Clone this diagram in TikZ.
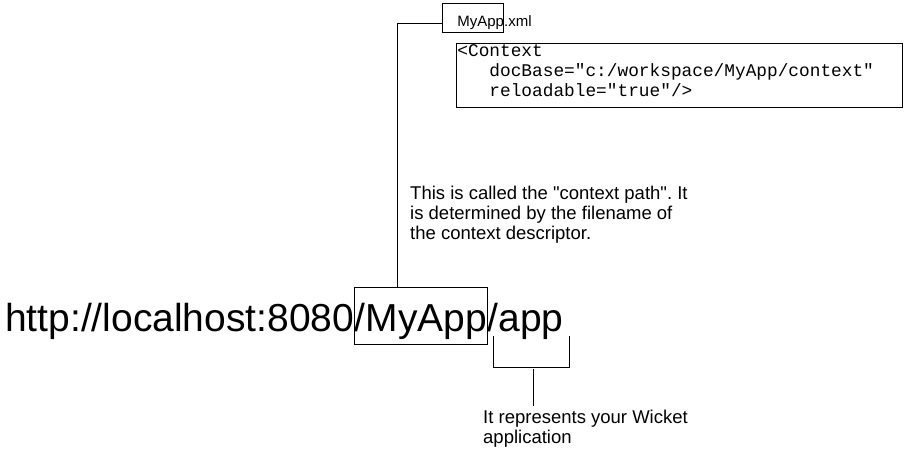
\documentclass[tikz,border=0pt]{standalone}
\usepackage{fontspec}
\newfontfamily\arialfont{Liberation Sans}
\newfontfamily\codefont{Liberation Mono}
\usetikzlibrary{positioning}
\frenchspacing
\tikzstyle{urltext} = [inner sep=0pt, anchor=base west, font=\arialfont\fontsize{39}{47}\selectfont]
\tikzstyle{filebox} = [rectangle, draw, line width=0.8pt, anchor=north west, inner xsep=0pt, inner ysep=0pt, text height=23pt, text depth=6pt, font=\arialfont\fontsize{15}{18}\selectfont]
\tikzstyle{codebox} = [rectangle, draw, line width=0.8pt, inner xsep=1pt, inner ysep=0pt, font=\codefont\fontsize{17.8}{20}\selectfont]
\tikzstyle{note} = [align=left, anchor=north west, inner xsep=0pt, inner ysep=4pt, font=\arialfont\fontsize{18.5}{20}\selectfont]
\tikzstyle{line} = [line width=0.8pt]

\begin{document}
\begin{tikzpicture}[x=1pt, y=-1pt, node distance=0pt]
\useasboundingbox (0,0) rectangle (904,449);

% Nodes for the URL
\node (host) [urltext] at (5,331) {http://localhost:8080};
\node (ctx) [urltext, draw, line width=0.8pt, text height=44pt, text depth=13pt] at (host.base east) {/MyApp};
\node (app) [urltext] at (ctx.base east) {/app};

% Context descriptor
\node (xml) [filebox] at (442,3) {\hspace*{15pt}\makebox[46pt][l]{MyApp.xml}};
\node (code) [codebox, below right=10pt and 14pt of xml.south west] {\parbox[t][64pt][t]{444pt}{\rule{0pt}{13pt}<Context\\
\hspace*{1.8em}docBase="c:/workspace/MyApp/context"\\
\hspace*{1.8em}reloadable="true"/>}};

% Notes
\node (ctxnote) [note] at (410,182) {This is called the "context path". It\\is determined by the filename of\\the context descriptor.};
\node (appnote) [note] at (483,406) {It represents your Wicket\\application};

% Lines
\coordinate (ctxtop) at ([xshift=43pt]ctx.north west);
\draw[line] ([yshift=-6pt]xml.west) -| (ctxtop);
\coordinate (brl) at (493,336);
\coordinate (brr) at (569,336);
\coordinate (brmid) at (533,369);
\draw[line] (brl) -- ++(0,31) -| (brr);
\draw[line] (brmid) -- (brmid |- appnote.north);

\end{tikzpicture}
\end{document}
